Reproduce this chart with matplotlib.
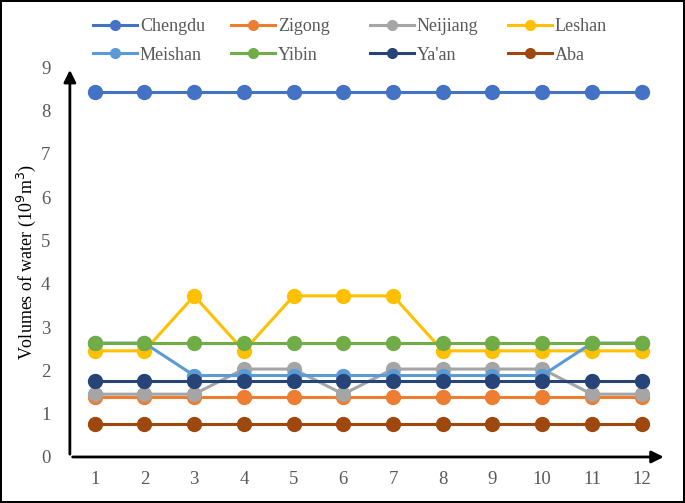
import numpy as np
import matplotlib.pyplot as plt

plt.rcParams['font.family'] = ['Liberation Serif', 'DejaVu Serif']

# monthly values (10^9 m3)
months = list(range(1, 13))
cities = ["Chengdu", "Zigong", "Neijiang", "Leshan",
          "Meishan", "Yibin", "Ya'an", "Aba"]
chengdu = [8.43] * 12
zigong = [1.39] * 12
neijiang = [1.45, 1.45, 1.45, 2.03, 2.03, 1.45, 2.03, 2.03, 2.03, 2.03, 1.45, 1.45]
leshan = [2.45, 2.45, 3.72, 2.45, 3.72, 3.72, 3.72, 2.45, 2.45, 2.45, 2.45, 2.45]
meishan = [2.63, 2.63, 1.88, 1.88, 1.88, 1.88, 1.88, 1.88, 1.88, 1.88, 2.63, 2.63]
yibin = [2.63] * 12
yaan = [1.76] * 12
aba = [0.75] * 12
series = [chengdu, zigong, neijiang, leshan, meishan, yibin, yaan, aba]
colors = ['#4472C4', '#ED7D31', '#A5A5A5', '#FFC000',
          '#5B9BD5', '#70AD47', '#264478', '#9E480E']

fig = plt.figure(figsize=(6.85, 5.03), dpi=100)
fig.patch.set_edgecolor('black')
fig.patch.set_linewidth(1.5)
ax = fig.add_axes([0.102, 0.0915, 0.871, 0.775])

lines = []
for name, vals, c in zip(cities, series, colors):
    ln, = ax.plot(months, vals, color=c, lw=2.2, marker='o', ms=10, label=name)
    lines.append(ln)

ax.set_xlim(0.5, 12.5)
ax.set_ylim(0, 9)
ax.set_xticks(months)
ax.set_yticks(range(0, 10))
for s in ax.spines.values():
    s.set_visible(False)
ax.tick_params(length=0, labelsize=13.5, labelcolor='#595959', pad=10)
ax.tick_params(axis='y', pad=14)

# axes drawn as arrows
ax.annotate('', xy=(1.0, 0), xytext=(0, 0), xycoords='axes fraction',
            arrowprops=dict(arrowstyle='-|>', color='black', lw=2, mutation_scale=18),
            annotation_clip=False)
ax.annotate('', xy=(0, 1.0), xytext=(0, 0), xycoords='axes fraction',
            arrowprops=dict(arrowstyle='-|>', color='black', lw=2, mutation_scale=18),
            annotation_clip=False)

ax.set_ylabel('Volumes of water (10$^9$m$^3$)', fontsize=13, labelpad=2)

# legend: 4 evenly spaced columns of two entries each
col_x = [93, 231, 370, 508]
for k, x0 in enumerate(col_x):
    hs = [lines[k], lines[k + 4]]
    leg = fig.legend(hs, [h.get_label() for h in hs], loc='upper left',
                     bbox_to_anchor=(x0 / 685, 1 - 18 / 503), frameon=False,
                     fontsize=13, handlelength=2.45, handletextpad=0.15,
                     labelspacing=0.65, borderaxespad=0, borderpad=0,
                     markerscale=0.7)
    for t in leg.get_texts():
        t.set_color('#595959')

plt.savefig('out.png', dpi=100, edgecolor=fig.get_edgecolor())
